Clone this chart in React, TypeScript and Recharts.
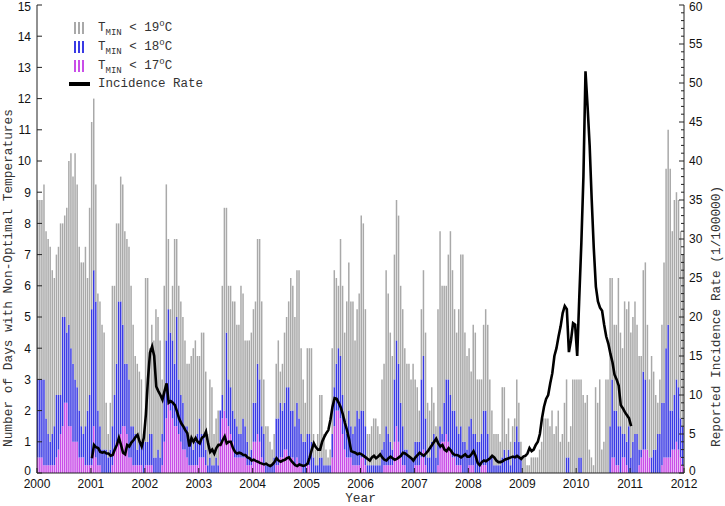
import { ComposedChart, Bar, Line, XAxis, YAxis } from 'recharts';

// half-month periods (26 per year), 2000 .. 2011
const FIRST_YEAR = 2000;
const PERIODS_PER_YEAR = 26;
const LINE_FIRST_YEAR = 2001;

const YEAR_TICKS = [2000, 2001, 2002, 2003, 2004, 2005, 2006, 2007, 2008, 2009, 2010, 2011, 2012];
const DAY_TICKS = [0, 1, 2, 3, 4, 5, 6, 7, 8, 9, 10, 11, 12, 13, 14, 15];
const RATE_TICKS = Array.from({ length: 61 }, (_, i) => i);

// days with Tmin < 19 C
const T19 = [
  /* 2000 */ 8.75, 8.75, 8.75, 9.25, 7.75, 7.5, 7.25, 6.5, 6.25, 7.0, 7.25, 8.0, 8.0, 8.25, 8.5, 10.0, 10.25, 9.5, 10.25, 9.25, 7.25, 6.75, 6.75, 7.25, 6.25, 8.5,
  /* 2001 */ 11.25, 12.0, 9.25, 5.75, 5.5, 4.75, 4.5, 2.25, 1.25, 2.25, 6.0, 6.0, 8.0, 8.0, 9.5, 9.25, 7.75, 7.5, 7.25, 6.0, 4.75, 3.75, 3.5, 3.25, 3.0, 1.25,
  /* 2002 */ 6.25, 6.25, 4.0, 4.75, 4.25, 5.25, 5.0, 4.25, 3.0, 6.0, 9.25, 7.5, 5.25, 6.0, 7.5, 7.5, 6.0, 5.5, 5.0, 4.25, 3.5, 3.5, 3.75, 4.0, 4.25, 3.75,
  /* 2003 */ 3.75, 4.5, 4.5, 3.25, 1.25, 3.0, 2.75, 1.25, 1.75, 2.0, 2.0, 6.0, 8.5, 8.5, 6.0, 6.0, 5.5, 5.5, 4.75, 4.75, 6.0, 5.75, 4.25, 4.25, 4.25, 4.5,
  /* 2004 */ 5.25, 5.5, 7.5, 7.5, 5.5, 3.0, 1.5, 1.5, 1.0, 0.75, 1.25, 3.5, 4.25, 3.25, 3.5, 4.5, 5.0, 5.5, 6.25, 6.0, 5.0, 6.5, 6.5, 4.0, 3.0, 2.25,
  /* 2005 */ 4.0, 4.0, 4.0, 1.25, 0.75, 1.25, 2.5, 2.5, 1.25, 0.75, 0.5, 0.75, 4.0, 6.5, 6.25, 6.0, 7.5, 6.0, 4.5, 5.5, 6.75, 5.5, 5.5, 4.25, 5.25, 5.75,
  /* 2006 */ 8.25, 8.0, 5.25, 1.25, 1.25, 1.5, 1.75, 1.75, 1.5, 1.25, 3.0, 3.5, 6.5, 5.75, 4.5, 3.75, 7.0, 8.75, 8.25, 6.0, 5.25, 4.0, 3.5, 3.5, 3.0, 3.5,
  /* 2007 */ 3.0, 2.75, 2.0, 5.25, 6.5, 4.5, 2.25, 2.0, 2.75, 2.25, 1.5, 5.25, 7.75, 6.0, 6.0, 6.0, 7.0, 7.75, 6.5, 5.25, 4.5, 5.25, 7.0, 7.0, 4.5, 3.75,
  /* 2008 */ 4.0, 3.25, 4.75, 4.5, 3.0, 3.0, 3.0, 4.75, 5.25, 4.75, 3.0, 2.0, 1.25, 1.25, 1.25, 1.0, 2.75, 2.75, 1.25, 1.75, 1.0, 1.5, 1.75, 3.0, 2.25, 1.0,
  /* 2009 */ 0.5, 0.5, 0.25, 0.25, 0.5, 0.5, 0.5, 0.5, 0.75, 1.0, 1.75, 1.75, 1.75, 1.5, 2.0, 1.25, 1.5, 2.0, 1.0, 1.25, 2.25, 3.0, 1.0, 1.5, 3.0, 3.0,
  /* 2010 */ 3.0, 3.0, 3.0, 2.5, 2.25, 2.5, 0.75, 0.5, 0.25, 2.75, 2.25, 3.0, 0.75, 1.0, 3.0, 3.0, 6.25, 6.25, 4.75, 4.75, 6.25, 4.5, 4.0, 5.5, 5.25, 5.5,
  /* 2011 */ 4.5, 5.0, 5.5, 4.75, 3.75, 3.75, 6.5, 6.75, 4.75, 3.0, 3.75, 3.25, 2.5, 2.25, 3.0, 4.75, 6.75, 9.75, 11.0, 9.75, 7.75, 8.75, 9.0, 8.75, 7.75, 7.0,
];

// days with Tmin < 18 C
const T18 = [
  /* 2000 */ 3.0, 3.0, 3.0, 3.0, 1.75, 1.25, 1.0, 1.25, 1.5, 2.5, 2.5, 2.5, 5.0, 5.0, 4.5, 4.75, 4.0, 3.5, 3.0, 2.75, 2.0, 1.5, 1.25, 1.5, 2.0, 2.5,
  /* 2001 */ 5.25, 6.5, 5.5, 2.0, 1.5, 0.75, 0.75, 0.75, 0.5, 0.75, 1.5, 2.5, 3.5, 5.5, 5.5, 4.75, 3.5, 3.5, 3.0, 1.5, 1.5, 1.25, 0.75, 1.0, 1.0, 1.0,
  /* 2002 */ 1.0, 1.0, 1.25, 1.25, 0.5, 0.5, 0.75, 0.5, 1.25, 2.5, 4.25, 5.25, 4.5, 4.25, 3.5, 5.0, 3.0, 2.5, 2.25, 1.5, 1.5, 1.0, 1.0, 0.75, 1.0, 1.25,
  /* 2003 */ 1.75, 1.25, 1.25, 0.75, 0.25, 0.5, 0.25, 0.25, 0.5, 0.25, 2.0, 2.5, 2.0, 4.5, 3.0, 2.75, 2.0, 1.75, 1.5, 1.25, 1.25, 1.75, 1.5, 1.0, 0.5, 0.75,
  /* 2004 */ 2.25, 2.25, 3.5, 3.0, 1.5, 1.25, 0.25, 0.25, 0.25, 0.25, 0.5, 1.75, 1.75, 2.25, 2.0, 2.25, 2.75, 2.75, 2.0, 2.0, 1.5, 2.25, 1.75, 1.25, 1.0, 1.0,
  /* 2005 */ 1.25, 1.25, 1.0, 0.5, 0.25, 0.25, 0.5, 0.5, 0.25, 0.25, 0.25, 0.25, 1.25, 2.75, 3.5, 4.0, 3.75, 2.5, 1.75, 1.25, 2.0, 1.5, 1.25, 1.5, 2.0, 1.75,
  /* 2006 */ 2.0, 2.0, 1.5, 0.25, 0.25, 0.25, 0.25, 0.25, 0.25, 0.25, 0.75, 1.0, 1.5, 1.25, 1.0, 0.75, 3.0, 4.25, 3.5, 2.25, 1.5, 0.75, 0.75, 0.5, 0.5, 0.5,
  /* 2007 */ 1.0, 1.0, 1.0, 3.0, 3.75, 1.75, 0.5, 0.5, 1.0, 1.25, 0.5, 1.0, 1.5, 1.25, 2.25, 3.0, 3.0, 2.5, 2.0, 2.0, 1.5, 1.25, 1.5, 1.0, 1.0, 0.75,
  /* 2008 */ 1.5, 1.75, 1.25, 1.25, 1.0, 1.0, 1.25, 2.0, 2.0, 1.25, 0.5, 0.5, 0.25, 0.25, 0.25, 0.25, 0.5, 0.75, 0.5, 0.75, 0.25, 0.5, 1.0, 1.5, 1.0, 0.5,
  /* 2009 */ 0, 0, 0, 0, 0, 0, 0, 0, 0, 0, 0, 0, 0, 0, 0, 0, 0, 0, 0, 0, 0, 0.5, 0.5, 0, 0, 0,
  /* 2010 */ 0, 0.5, 0.5, 0, 0, 0, 0, 0, 0, 0, 0, 0, 0, 0, 0, 0, 1.5, 3.0, 2.0, 2.0, 1.5, 1.5, 1.25, 1.25, 1.0, 1.5,
  /* 2011 */ 0.5, 1.0, 1.25, 1.25, 0.75, 0.75, 3.25, 3.0, 0.75, 0.5, 0.5, 0.75, 0.75, 1.25, 1.25, 2.25, 2.25, 4.0, 4.75, 2.0, 2.0, 2.5, 3.0, 2.75, 1.75, 1.5,
];

// days with Tmin < 17 C
const T17 = [
  /* 2000 */ 0.5, 0.5, 0.5, 0.25, 0.25, 0.25, 0.25, 0.25, 0.25, 0.5, 0.75, 1.25, 1.5, 2.25, 2.25, 1.5, 1.5, 1.0, 1.0, 1.0, 0.5, 0.5, 0.5, 0.25, 0.25, 0.25,
  /* 2001 */ 0.25, 1.5, 0.5, 0.25, 0.25, 0, 0, 0, 0, 0, 0.25, 0.75, 1.0, 1.0, 1.25, 1.5, 1.5, 1.25, 0.5, 0.5, 0.25, 0.25, 0.25, 0.25, 0.25, 0,
  /* 2002 */ 0.25, 0.25, 0.25, 0.25, 0, 0, 0, 0, 0.25, 1.0, 1.75, 2.25, 2.0, 1.75, 1.5, 1.5, 1.25, 1.0, 0.75, 0.75, 0.5, 0.25, 0.25, 0.25, 0.25, 0.25,
  /* 2003 */ 0.5, 0.5, 0.5, 0.25, 0, 0, 0, 0, 0, 0, 1.0, 1.75, 2.0, 1.75, 1.5, 1.25, 1.0, 0.5, 0.5, 0.5, 0.5, 0.5, 0.5, 0.25, 0.25, 0.25,
  /* 2004 */ 1.0, 1.0, 1.25, 1.0, 0.5, 0.25, 0, 0, 0, 0, 0, 0.25, 0.25, 0.5, 0.5, 0.75, 0.75, 0.5, 0.5, 0.5, 0.25, 0.5, 0.25, 0.25, 0, 0,
  /* 2005 */ 0.25, 0.25, 0, 0, 0, 0, 0, 0, 0, 0, 0, 0, 0.5, 1.5, 2.0, 2.0, 1.75, 1.25, 0.75, 0.5, 0.5, 0.5, 0.25, 0.25, 0.25, 0.25,
  /* 2006 */ 0.5, 0.5, 0.25, 0, 0, 0, 0, 0, 0, 0, 0, 0.25, 0.25, 0.25, 0.25, 0.25, 1.0, 1.5, 1.0, 0.5, 0.25, 0.25, 0, 0, 0, 0,
  /* 2007 */ 0.25, 0.25, 0.25, 0.5, 0.75, 0.25, 0, 0, 0, 0, 0, 0.25, 0.75, 1.0, 1.0, 1.25, 1.0, 0.75, 0.5, 0.5, 0.25, 0.25, 0.25, 0, 0, 0,
  /* 2008 */ 0.25, 0.25, 0.25, 0, 0, 0, 0.25, 0.25, 0.25, 0, 0, 0, 0, 0, 0, 0, 0, 0, 0, 0, 0, 0, 0, 0, 0, 0,
  /* 2009 */ 0, 0, 0, 0, 0, 0, 0, 0, 0, 0, 0, 0, 0, 0, 0, 0, 0, 0, 0, 0, 0, 0, 0, 0, 0, 0,
  /* 2010 */ 0, 0, 0, 0, 0, 0, 0, 0, 0, 0, 0, 0, 0, 0, 0, 0, 0, 0.5, 0.5, 0.25, 0.25, 0, 0.5, 0.5, 0.25, 0,
  /* 2011 */ 0, 0, 0, 0, 0.25, 0.5, 0.75, 0.75, 0.75, 0.5, 0, 0, 0, 0, 0, 0.25, 0.5, 0.5, 0.5, 0.5, 0.75, 0.75, 1.0, 0.75, 0.5, 0.25,
];

// reported incidence rate per 100000, from the first period of 2001
const INCIDENCE = [
  /* 2001 */ 1.9, 3.6, 3.3, 3.2, 2.7, 2.6, 2.7, 2.5, 2.5, 2.2, 2.3, 3.0, 3.6, 4.5, 3.6, 2.6, 2.4, 3.6, 3.4, 3.9, 4.2, 4.6, 4.9, 4.0, 3.4, 4.5,
  /* 2002 */ 7.5, 12.0, 15.4, 16.2, 15.0, 11.1, 10.5, 10.0, 9.4, 10.5, 11.5, 9.0, 9.2, 9.0, 8.7, 7.9, 7.0, 6.4, 6.0, 5.5, 5.1, 3.4, 4.5, 4.0, 4.5, 4.0,
  /* 2003 */ 3.8, 4.5, 4.7, 5.3, 3.8, 2.7, 3.0, 2.5, 3.2, 3.6, 3.6, 4.2, 4.7, 3.8, 4.0, 4.0, 3.2, 2.7, 2.5, 2.6, 2.5, 2.3, 2.3, 2.0, 1.9, 1.6,
  /* 2004 */ 1.7, 1.55, 1.45, 1.3, 1.2, 1.1, 1.2, 1.0, 0.9, 1.1, 1.4, 1.9, 1.6, 1.45, 1.6, 1.7, 1.9, 2.0, 1.6, 1.3, 1.0, 0.9, 1.1, 1.0, 0.9, 1.0,
  /* 2005 */ 1.2, 2.0, 3.0, 3.8, 3.3, 3.0, 3.0, 4.0, 4.6, 5.1, 5.5, 6.8, 8.5, 9.6, 9.5, 9.0, 8.4, 7.5, 6.4, 5.5, 4.3, 2.8, 2.7, 2.6, 2.4, 2.5,
  /* 2006 */ 2.4, 2.2, 2.0, 1.8, 1.6, 2.0, 2.2, 1.9, 2.1, 2.4, 2.0, 1.7, 1.6, 1.9, 2.1, 1.9, 1.7, 1.8, 2.0, 2.2, 2.6, 2.5, 2.3, 2.1, 1.9, 1.6,
  /* 2007 */ 2.0, 2.3, 2.6, 2.4, 2.2, 2.5, 2.8, 3.2, 3.6, 4.0, 4.4, 3.8, 3.4, 3.6, 3.0, 2.8, 3.2, 2.9, 2.5, 2.3, 2.3, 2.2, 2.0, 2.2, 2.4, 2.1,
  /* 2008 */ 2.1, 2.4, 2.8, 2.2, 1.3, 1.0, 1.4, 1.6, 1.5, 1.7, 1.9, 2.2, 2.0, 1.6, 1.4, 1.4, 1.5, 1.7, 1.8, 1.9, 2.0, 2.1, 2.0, 2.2, 2.0, 1.8,
  /* 2009 */ 2.1, 2.2, 2.5, 3.2, 2.8, 3.0, 3.6, 4.0, 5.0, 7.0, 8.5, 9.5, 10.0, 11.5, 12.8, 15.0, 16.0, 17.5, 18.8, 20.5, 21.4, 21.0, 15.5, 17.0, 19.2, 19.0,
  /* 2010 */ 15.0, 22.5, 29.5, 38.0, 51.5, 47.0, 42.0, 35.0, 28.8, 23.9, 22.0, 21.2, 20.8, 19.0, 17.5, 16.6, 15.3, 14.2, 12.6, 12.0, 11.2, 8.7, 8.3, 7.8, 7.4, 7.0,
  /* 2011 */ 6.0,
];

const W = 725;
const H = 506;
const PLOT_LEFT = 37;
const PLOT_RIGHT = 684;
const PLOT_TOP = 5;
const PLOT_BOTTOM = 473;

const AXIS = '#222';
const MONO = '"Liberation Mono", "DejaVu Sans Mono", monospace';
const SANS = '"Liberation Sans", Arial, sans-serif';
const GREY = '#a9a9a9';
const BLUE = '#3a3ae4';
const MAGENTA = '#c94ee8';

// stacked pieces: t17 at the bottom, then the part of t18 above it, then t19
const lineOffset = (LINE_FIRST_YEAR - FIRST_YEAR) * PERIODS_PER_YEAR;
const data = T19.map((g, k) => {
  const b = T18[k];
  const m = T17[k];
  const li = k - lineOffset;
  return {
    t: FIRST_YEAR + (k + 0.5) / PERIODS_PER_YEAR,
    m,
    bm: Math.max(0, b - m),
    gb: Math.max(0, g - b),
    rate: li >= 0 && li < INCIDENCE.length ? INCIDENCE[li] : null,
  };
});

function BottomTick({ x, payload }: any) {
  return (
    <g>
      <line x1={x} x2={x} y1={PLOT_BOTTOM} y2={PLOT_BOTTOM - 5} stroke={AXIS} />
      <text x={x} y={PLOT_BOTTOM + 15} textAnchor="middle" fontFamily={SANS} fontSize={12} fill="#111">
        {payload.value}
      </text>
    </g>
  );
}

function TopTick({ x, payload }: any) {
  if (payload.value === 2000 || payload.value === 2012) return <g />;
  return <line x1={x} x2={x} y1={PLOT_TOP} y2={PLOT_TOP + 5} stroke={AXIS} />;
}

// the top label sits a little lower so it stays inside the picture
const edgeNudge = (v: number, top: number) => (v === top ? 1.5 : 0);

function LeftTick({ y, payload }: any) {
  return (
    <g>
      <line x1={PLOT_LEFT} x2={PLOT_LEFT + 5} y1={y} y2={y} stroke={AXIS} />
      <text
        x={PLOT_LEFT - 6}
        y={y + edgeNudge(payload.value, 15) - (payload.value === 0 ? 2 : 0)}
        dy="0.36em"
        textAnchor="end"
        fontFamily={SANS}
        fontSize={12}
        fill="#111"
      >
        {payload.value}
      </text>
    </g>
  );
}

function RightTick({ y, payload }: any) {
  const major = payload.value % 5 === 0;
  return (
    <g>
      <line x1={PLOT_RIGHT} x2={PLOT_RIGHT - (major ? 5 : 3)} y1={y} y2={y} stroke={AXIS} />
      {major && (
        <text
          x={PLOT_RIGHT + 5}
          y={y + edgeNudge(payload.value, 60) - (payload.value === 0 ? 2 : 0)}
          dy="0.36em"
          textAnchor="start"
          fontFamily={SANS}
          fontSize={12}
          fill="#111"
        >
          {payload.value}
        </text>
      )}
    </g>
  );
}

const titleStyle = { fontFamily: MONO, fontSize: 12.8, fill: '#333' };

function LegendIcon({ color }: { color: string }) {
  return (
    <svg width={12} height={12} style={{ display: 'block' }}>
      {[0, 4, 8].map((x) => (
        <rect key={x} x={x} y={0} width={2} height={12} fill={color} />
      ))}
    </svg>
  );
}

function TLabel({ t }: { t: number }) {
  return (
    <span>
      T<span style={{ fontSize: 9, position: 'relative', top: 4 }}>MIN</span> &lt; {t}
      <span style={{ fontSize: 9, position: 'relative', top: -5 }}>o</span>C
    </span>
  );
}

const LEGEND_ROWS = [
  { color: GREY, t: 19 },
  { color: BLUE, t: 18 },
  { color: MAGENTA, t: 17 },
];

function ChartLegend() {
  const row = { position: 'absolute' as const, display: 'flex', alignItems: 'center', height: 18 };
  return (
    <div style={{ fontFamily: MONO, fontSize: 12.5, color: '#333' }}>
      {LEGEND_ROWS.map((r, i) => (
        <div key={r.t} style={{ ...row, left: 74, top: 19 + i * 18.8 }}>
          <div style={{ width: 24 }}>
            <LegendIcon color={r.color} />
          </div>
          <TLabel t={r.t} />
        </div>
      ))}
      <div style={{ ...row, left: 69, top: 75 }}>
        <div style={{ width: 21, height: 4, background: '#000', marginRight: 8 }} />
        <span>Incidence Rate</span>
      </div>
    </div>
  );
}

export default function App() {
  return (
    <div style={{ position: 'absolute', left: 0, top: 0, width: W, height: H, background: '#fff' }}>
      <ComposedChart width={W} height={H} data={data} margin={{ top: PLOT_TOP, right: 0, bottom: 0, left: 0 }}>
        <XAxis
          dataKey="t"
          type="number"
          domain={[2000, 2012]}
          ticks={YEAR_TICKS}
          interval={0}
          height={H - PLOT_BOTTOM}
          tickLine={false}
          axisLine={{ stroke: AXIS }}
          tick={BottomTick}
          label={{
            content: () => (
              <text x={(PLOT_LEFT + PLOT_RIGHT) / 2} y={H - 4.5} textAnchor="middle" style={titleStyle}>
                Year
              </text>
            ),
          }}
        />
        <XAxis
          xAxisId="top"
          dataKey="t"
          type="number"
          orientation="top"
          domain={[2000, 2012]}
          ticks={YEAR_TICKS}
          interval={0}
          height={0}
          tickLine={false}
          axisLine={{ stroke: AXIS }}
          tick={TopTick}
        />
        <YAxis
          yAxisId="left"
          domain={[0, 15]}
          ticks={DAY_TICKS}
          interval={0}
          width={PLOT_LEFT}
          tickLine={false}
          axisLine={{ stroke: AXIS }}
          tick={LeftTick}
          label={{
            content: () => (
              <text x={12} y={447} transform="rotate(-90 12 447)" textAnchor="start" style={titleStyle}>
                Number of Days with Non-Optimal Temperatures
              </text>
            ),
          }}
        />
        <YAxis
          yAxisId="right"
          orientation="right"
          domain={[0, 60]}
          ticks={RATE_TICKS}
          interval={0}
          width={W - PLOT_RIGHT}
          tickLine={false}
          axisLine={{ stroke: AXIS }}
          tick={RightTick}
          label={{
            content: () => (
              <text x={720} y={447} transform="rotate(-90 720 447)" textAnchor="start" style={titleStyle}>
                Reported Incidence Rate (1/100000)
              </text>
            ),
          }}
        />
        <Bar yAxisId="left" dataKey="m" stackId="days" fill={MAGENTA} barSize={1.5} isAnimationActive={false} />
        <Bar yAxisId="left" dataKey="bm" stackId="days" fill={BLUE} barSize={1.5} isAnimationActive={false} />
        <Bar yAxisId="left" dataKey="gb" stackId="days" fill={GREY} barSize={1.5} isAnimationActive={false} />
        <Line
          yAxisId="right"
          dataKey="rate"
          type="linear"
          stroke="#000"
          strokeWidth={2.6}
          dot={false}
          activeDot={false}
          connectNulls={false}
          isAnimationActive={false}
        />
      </ComposedChart>
      <ChartLegend />
    </div>
  );
}
